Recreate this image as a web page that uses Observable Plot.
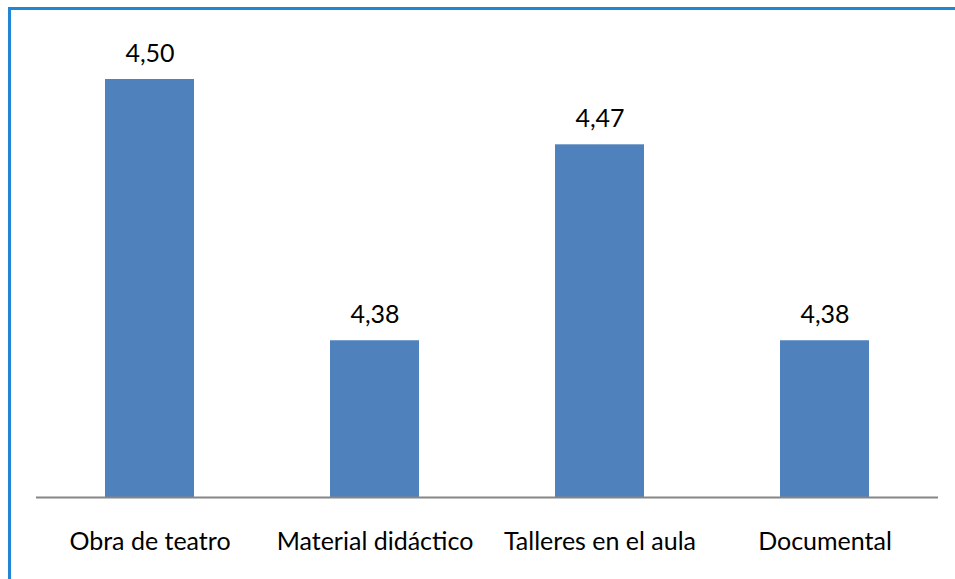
<!DOCTYPE html>
<html>
<head>
<meta charset="utf-8">
<script src="https://cdn.jsdelivr.net/npm/d3@7"></script>
<script src="https://cdn.jsdelivr.net/npm/@observablehq/plot@0.6"></script>
<style>
  html, body { margin: 0; padding: 0; background: #fff; overflow: hidden; }
  #wrap { position: relative; width: 955px; height: 579px; overflow: hidden; }
  .edge { position: absolute; background: #1f87d6; pointer-events: none; }
  #top { left: 8px; top: 7px; width: 947px; height: 3px; }
  #left { left: 8px; top: 7px; width: 3px; height: 572px; }
  svg { display: block; }
</style>
</head>
<body>
<div id="wrap"><div class="edge" id="top"></div><div class="edge" id="left"></div></div>
<script>
const categories = ["Obra de teatro", "Material didáctico", "Talleres en el aula", "Documental"];
const values = [4.50, 4.38, 4.47, 4.38];
const yMin = 4.308;

const data = categories.map((c, i) => ({category: c, value: values[i]}));
const fmt = v => v.toFixed(2).replace(".", ",");
const font = "Lato, sans-serif";

const chart = Plot.plot({
  width: 955,
  height: 579,
  marginLeft: 36,
  marginRight: 17,
  marginTop: 79,
  marginBottom: 82,
  style: {fontFamily: font, background: "#fff"},
  x: {domain: categories, paddingInner: 0.605, paddingOuter: 0.3025, axis: null},
  y: {domain: [yMin, 4.50], axis: null},
  marks: [
    Plot.barY(data, {x: "category", y1: yMin, y2: "value", fill: "#4f81bd"}),
    Plot.ruleY([yMin], {stroke: "#868686", strokeWidth: 2}),
    Plot.text(data, {x: "category", y: "value", text: d => fmt(d.value),
      lineAnchor: "bottom", dy: -18, fontSize: 25, fill: "#000"}),
    Plot.text(categories, {x: d => d, frameAnchor: "bottom", lineAnchor: "bottom",
      dy: 52, fontSize: 25, fill: "#000"})
  ]
});
document.getElementById("wrap").prepend(chart);
</script>
</body>
</html>
